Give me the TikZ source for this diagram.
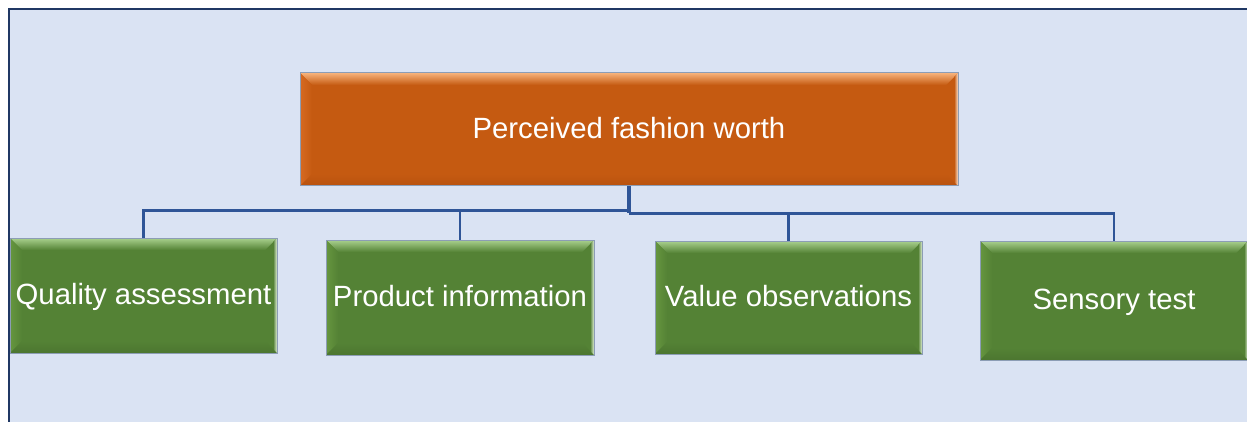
\documentclass[tikz,border=0pt]{standalone}
\usepackage{fontspec}
\setmainfont{Liberation Sans}
\usetikzlibrary{calc}

\definecolor{bgblue}{HTML}{DAE3F3}
\definecolor{frameblue}{HTML}{203864}
\definecolor{linkblue}{HTML}{2F5597}
\definecolor{boxline}{HTML}{8C9DB5}
\definecolor{orangefill}{HTML}{C55A11}
\definecolor{orangelight}{HTML}{F7B27A}
\definecolor{orangeside}{HTML}{D66A22}
\definecolor{orangedark}{HTML}{B8520F}
\definecolor{orangeedge}{HTML}{FCE4D0}
\definecolor{greenfill}{HTML}{548235}
\definecolor{greenlight}{HTML}{A9D18E}
\definecolor{greenside}{HTML}{66963F}
\definecolor{greendark}{HTML}{4C7630}
\definecolor{greenedge}{HTML}{E2F0D9}

% bevelled face: #1 top light, #2 left side, #3 face, #4 bottom, #5 right edge
\newcommand\bevelpaint[5]{%
  \coordinate (bnw) at (path picture bounding box.north west);
  \coordinate (bne) at (path picture bounding box.north east);
  \coordinate (bsw) at (path picture bounding box.south west);
  \coordinate (bse) at (path picture bounding box.south east);
  \fill[#3] (bnw) rectangle (bse);
  \shade[top color=#1, bottom color=#3]
    (bnw) -- (bne) -- ($(bne)+(-12pt,-12pt)$) -- ($(bnw)+(12pt,-12pt)$) -- cycle;
  \shade[left color=#2, right color=#3]
    (bnw) -- ($(bnw)+(12pt,-12pt)$) -- ($(bsw)+(12pt,12pt)$) -- (bsw) -- cycle;
  \shade[bottom color=#4, top color=#3]
    (bsw) -- ($(bsw)+(12pt,12pt)$) -- ($(bse)+(-12pt,12pt)$) -- (bse) -- cycle;
  \shade[left color=#3, right color=#5]
    (bne) -- ($(bne)+(-4pt,-4pt)$) -- ($(bse)+(-4pt,4pt)$) -- (bse) -- cycle;
}

\tikzset{
  boxtext/.style={text=white, font=\fontsize{29.3}{34}\selectfont,
    text height=24pt, text depth=6pt,
    inner sep=0pt, draw=boxline, line width=1pt, align=center},
  topbox/.style={boxtext,
    path picture={\bevelpaint{orangelight}{orangeside}{orangefill}{orangedark}{orangeedge}}},
  leafbox/.style={boxtext,
    path picture={\bevelpaint{greenlight}{greenside}{greenfill}{greendark}{greenedge}}},
  link/.style={draw=linkblue, line width=2.5pt},
}

\begin{document}
\begin{tikzpicture}[x=1pt, y=-1pt]
  \useasboundingbox (0,0) rectangle (1247,422);
  \clip (0,0) rectangle (1247,422);

  % canvas with its frame
  \draw[frameblue, line width=2pt, fill=bgblue] (9,9) rectangle (1300,500);

  % boxes
  \node[topbox, minimum width=658pt, minimum height=113pt] (top) at (629,129.5)
    {Perceived fashion worth};
  \node[leafbox, minimum width=267pt, minimum height=115pt] (qa) at (143.5,295.5)
    {Quality assessment};
  \node[leafbox, minimum width=268pt, minimum height=115pt] (pi) at (460,297.5)
    {Product information};
  \node[leafbox, minimum width=267pt, minimum height=113pt] (vo) at (788.5,297.5)
    {Value observations};
  \node[leafbox, minimum width=268pt, minimum height=119pt] (st) at (1114,300.5)
    {Sensory test};

  % connectors
  \coordinate (hubL) at ($(top.south)+(0,24)$);
  \coordinate (hubR) at ($(top.south)+(0,27)$);
  \draw[link, line width=3.2pt] (top.south) -- (hubR);
  \draw[link] (hubL) -| (qa.north);
  \draw[link] (hubL) -| ($(pi.north)+(0,-27)$) -- (pi.north);
  \draw[link] (hubR) -| (vo.north);
  \draw[link] (hubR) -| (st.north);
\end{tikzpicture}
\end{document}
